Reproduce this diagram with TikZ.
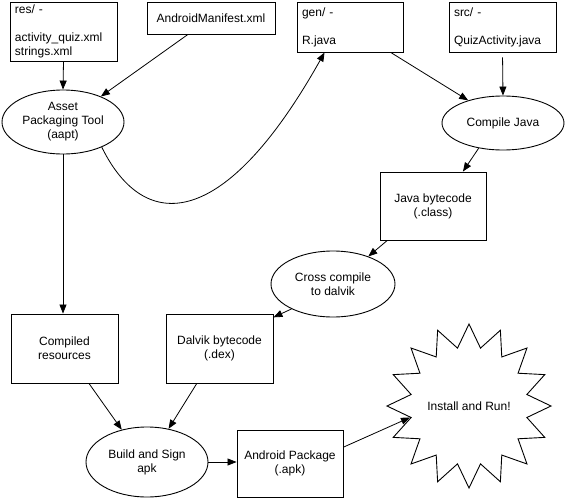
\documentclass[tikz,border=0pt]{standalone}
\usepackage{fontspec}
\setmainfont{Liberation Sans}
\usetikzlibrary{shapes.geometric,arrows.meta,calc}
\begin{document}
\begin{tikzpicture}[x=1pt,y=-1pt,
  every node/.style={font=\fontsize{12}{14}\selectfont},
  box/.style={draw, line width=0.9pt, rectangle, inner sep=0pt, align=center},
  lbox/.style={draw, line width=0.9pt, rectangle, inner xsep=5pt, inner ysep=0pt, align=left},
  oval/.style={draw, line width=0.9pt, ellipse, inner sep=0pt, align=center},
  burst/.style={draw, line width=0.9pt, star, star points=16, star point ratio=1.39, minimum size=164pt, inner sep=0pt},
  arr/.style={line width=0.8pt, -{Triangle[length=9pt,width=7pt]}}]
\useasboundingbox (0,0) rectangle (566,501);

\node[lbox, text width=97pt, minimum height=59pt] (res) at (63.5,31.5) {res/ -\\[14pt]activity\_quiz.xml\\strings.xml};
\node[box, minimum width=128pt, minimum height=32pt] (man) at (211,18) {AndroidManifest.xml};
\node[lbox, text width=96pt, minimum height=50pt] (gen) at (350,27) {gen/ -\\[14pt]R.java};
\node[lbox, text width=97pt, minimum height=50pt] (src) at (502.5,27) {src/ -\\[14pt]QuizActivity.java};
\node[oval, minimum width=122pt, minimum height=64pt] (aapt) at (63,122) {Asset\\Packaging Tool\\(aapt)};
\node[oval, minimum width=122pt, minimum height=54pt] (cj) at (503,123) {Compile Java};
\node[box, minimum width=106pt, minimum height=68pt] (jb) at (433,206) {Java bytecode\\(.class)};
\node[oval, minimum width=124pt, minimum height=66pt] (cc) at (333,284) {Cross compile\\to dalvik};
\node[box, minimum width=107pt, minimum height=69pt] (cr) at (64.5,348.5) {Compiled\\resources};
\node[box, minimum width=107pt, minimum height=69pt] (dx) at (219.5,348.5) {Dalvik bytecode\\(.dex)};
\node[oval, minimum width=122pt, minimum height=70pt] (bs) at (147,462) {Build and Sign\\apk};
\node[box, minimum width=106pt, minimum height=67pt] (ap) at (290,463.5) {Android Package\\(.apk)};
\node[burst] (st) at (469,406) {Install and Run!};

\draw[arr] (res.south) -- (aapt.north);
\draw[arr] (man) -- (aapt.34);
\draw[arr] (aapt.-33) .. controls (145,235) and (225,230) .. (gen.225);
\draw[arr] (gen.-32) -- (cj.147);
\draw[arr, shorten <=5pt] (src.south) -- (cj.north);
\draw[arr] (cj.-134) -- (jb.49);
\draw[arr] (jb.-143) -- (cc.38);
\draw[arr] (cc.-149) -- (dx.30);
\draw[arr] (aapt.south) -- (aapt.south |- cr.north);
\draw[arr] (cr.-55) -- (bs.128);
\draw[arr] (dx.-123) -- (bs.57);
\draw[arr] (bs.east) -- (ap.west |- bs.east);
\draw[arr] (ap.17) -- (st.191.25);
\end{tikzpicture}
\end{document}
